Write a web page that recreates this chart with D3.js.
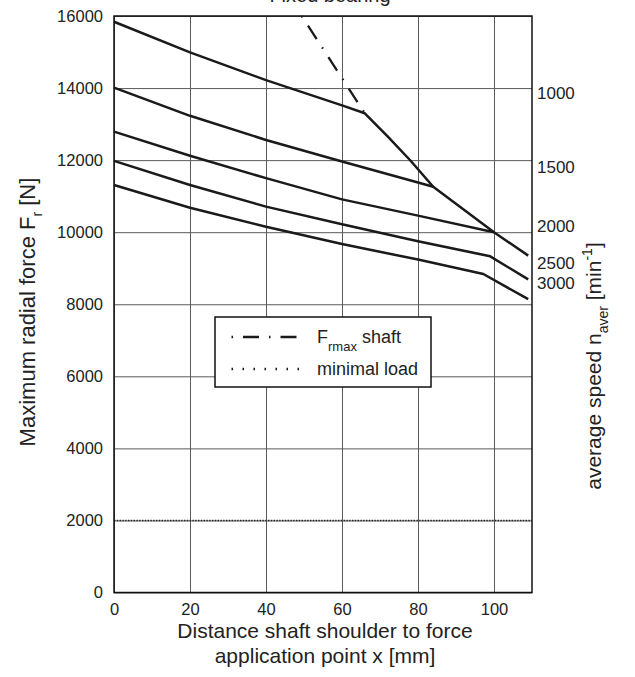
<!DOCTYPE html>
<html>
<head>
<meta charset="utf-8">
<script src="https://cdn.jsdelivr.net/npm/d3@7"></script>
<style>
  html, body { margin: 0; padding: 0; background: #fff; }
  svg { display: block; font-family: "Liberation Sans", Arial, Helvetica, sans-serif; }
</style>
</head>
<body>
<svg id="chart" width="635" height="677"></svg>
<script>
// Distance from shaft shoulder x [mm] vs. maximum radial force Fr [N]
const xTicks = [0, 20, 40, 60, 80, 100];
const yTicks = [0, 2000, 4000, 6000, 8000, 10000, 12000, 14000, 16000];

// Curves per average speed (x in mm, F in N)
const speeds = ["1000", "1500", "2000", "2500", "3000"];
const curve1000 = [[0, 15840], [20, 14990], [40, 14220], [60, 13520], [66, 13300],
                   [72, 12660], [78, 11990], [84, 11260], [100, 10000], [109, 9350]];
const curve1500 = [[0, 14010], [20, 13230], [40, 12560], [60, 11960], [80, 11380], [84, 11260]];
const curve2000 = [[0, 12790], [20, 12120], [40, 11500], [60, 10910], [80, 10460], [100, 10000]];
const curve2500 = [[0, 11980], [20, 11310], [40, 10710], [60, 10220], [80, 9750], [99, 9330], [109, 8690]];
const curve3000 = [[0, 11310], [20, 10680], [40, 10150], [60, 9670], [80, 9240], [97.2, 8840], [109, 8140]];
const curves = [curve1000, curve1500, curve2000, curve2500, curve3000];

// Label positions of the speed values on the right side (in N)
const speedLabelF = [13860, 11810, 10170, 9140, 8590];

// Shaft limit Frmax (dash-dot) and minimal load (dotted)
const shaftLimit = [[49.4, 16000], [66, 13300]];
const minimalLoad = [[0, 2000], [110, 2000]];

const svg = d3.select("#chart");
const pLeft = 114, pRight = 532, pTop = 16, pBottom = 592.5;

const x = d3.scaleLinear().domain([0, 110]).range([pLeft, pRight]);
const y = d3.scaleLinear().domain([0, 16000]).range([pBottom, pTop]);

// Heading above the plot
svg.append("text")
  .attr("x", 330).attr("y", 1.5)
  .attr("text-anchor", "middle")
  .attr("font-size", 20).attr("fill", "#222")
  .text("Fixed bearing");

// Grid + axes
const gridColor = "#5a5a5a";
const gx = svg.append("g")
  .attr("transform", `translate(0,${pBottom})`)
  .call(d3.axisBottom(x).tickValues(xTicks).tickFormat(d3.format("d"))
    .tickSize(-(pBottom - pTop)).tickPadding(7));
const gy = svg.append("g")
  .attr("transform", `translate(${pLeft},0)`)
  .call(d3.axisLeft(y).tickValues(yTicks).tickFormat(d3.format("d"))
    .tickSize(-(pRight - pLeft)).tickPadding(11));
[gx, gy].forEach(g => {
  g.select(".domain").remove();
  g.selectAll(".tick line").attr("stroke", gridColor).attr("stroke-width", 1);
  g.selectAll(".tick text").attr("font-size", 16.5).attr("fill", "#222")
    .attr("font-family", "'Liberation Sans', Arial, sans-serif");
});
gx.selectAll(".tick text").attr("dy", "0.95em");

// Minimal load line
const line = d3.line().x(d => x(d[0])).y(d => y(d[1]));
svg.append("path")
  .attr("d", line(minimalLoad))
  .attr("fill", "none").attr("stroke", "#222").attr("stroke-width", 1.6)
  .attr("stroke-dasharray", "1.4,1.4");

// Frame
svg.append("rect")
  .attr("x", pLeft).attr("y", pTop)
  .attr("width", pRight - pLeft).attr("height", pBottom - pTop)
  .attr("fill", "none").attr("stroke", "#111").attr("stroke-width", 1.5);

// Speed curves
svg.append("g").selectAll("path")
  .data(curves)
  .join("path")
  .attr("d", line)
  .attr("fill", "none").attr("stroke", "#1a1a1a")
  .attr("stroke-width", 2.5).attr("stroke-linejoin", "round");

// Shaft limit
svg.append("path")
  .attr("d", line(shaftLimit))
  .attr("fill", "none").attr("stroke", "#1a1a1a").attr("stroke-width", 2.3)
  .attr("stroke-dasharray", "1.5,10,16,10");

// Speed labels
svg.append("g").selectAll("text")
  .data(speeds)
  .join("text")
  .attr("x", pRight + 5)
  .attr("y", (d, i) => y(speedLabelF[i]))
  .attr("dy", "0.35em")
  .attr("font-size", 17).attr("fill", "#222")
  .text(d => d);

// Left axis title
const yTitle = svg.append("text")
  .attr("transform", `translate(35,312) rotate(-90)`)
  .attr("text-anchor", "middle")
  .attr("font-size", 22).attr("fill", "#222");
yTitle.append("tspan").text("Maximum radial force F");
yTitle.append("tspan").attr("font-size", 14).attr("dy", 7).text("r");
yTitle.append("tspan").attr("dy", -7).text(" [N]");

// Right axis title
const rTitle = svg.append("text")
  .attr("transform", `translate(601,366) rotate(-90)`)
  .attr("text-anchor", "middle")
  .attr("font-size", 21).attr("fill", "#222");
rTitle.append("tspan").text("average speed n");
rTitle.append("tspan").attr("font-size", 14).attr("dy", 7).text("aver");
rTitle.append("tspan").attr("dy", -7).text(" [min");
rTitle.append("tspan").attr("font-size", 14).attr("dy", -9).text("-1");
rTitle.append("tspan").attr("dy", 9).text("]");

// Bottom axis title
const xTitle = svg.append("text")
  .attr("text-anchor", "middle")
  .attr("font-size", 21).attr("fill", "#222");
xTitle.append("tspan").attr("x", 325).attr("y", 638).text("Distance shaft shoulder to force");
xTitle.append("tspan").attr("x", 325).attr("y", 663).text("application point x [mm]");

// Legend
const lg = svg.append("g");
lg.append("rect")
  .attr("x", 215).attr("y", 317).attr("width", 216).attr("height", 70)
  .attr("fill", "#fff").attr("stroke", "#111").attr("stroke-width", 1.5);
const legendItems = [
  { main: "F", sub: "rmax", rest: " shaft", dash: "1.5,10,16,10", y: 337 },
  { main: "minimal load", sub: "", rest: "", dash: "1.5,9.5", y: 369 }
];
legendItems.forEach(it => {
  lg.append("line")
    .attr("x1", 231.5).attr("x2", 300).attr("y1", it.y).attr("y2", it.y)
    .attr("stroke", "#1a1a1a").attr("stroke-width", 2.3)
    .attr("stroke-dasharray", it.dash);
  const t = lg.append("text").attr("x", 317).attr("y", it.y).attr("dy", "0.35em")
    .attr("font-size", 18).attr("fill", "#222");
  t.append("tspan").text(it.main);
  if (it.sub) {
    t.append("tspan").attr("font-size", 13).attr("dy", 8).text(it.sub);
    t.append("tspan").attr("dy", -8).text(it.rest);
  }
});
</script>
</body>
</html>
